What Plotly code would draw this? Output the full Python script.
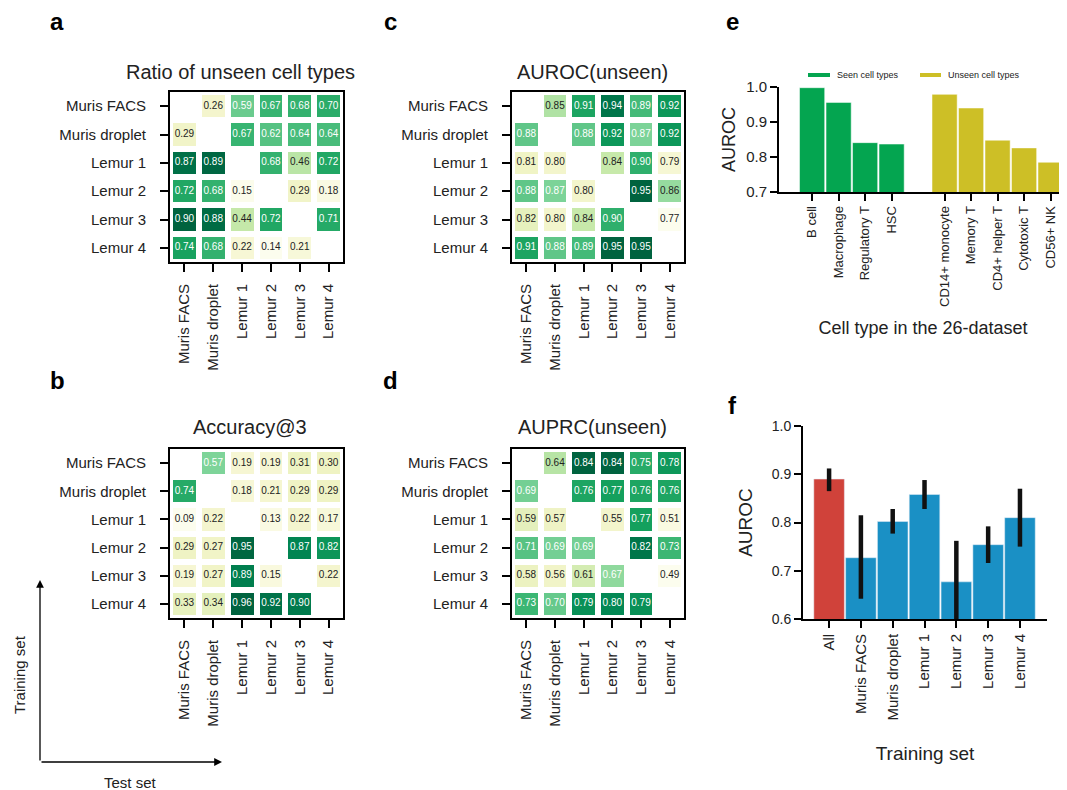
import plotly.graph_objects as go

W, H = 1067, 790
OX, OY = 8, 8  # page body margin of the rendered page
FONT = "Liberation Sans, Arial, Helvetica, sans-serif"

datasets = ["Muris FACS", "Muris droplet", "Lemur 1", "Lemur 2", "Lemur 3", "Lemur 4"]

ratio_unseen = [
    [None, 0.26, 0.59, 0.67, 0.68, 0.70],
    [0.29, None, 0.67, 0.62, 0.64, 0.64],
    [0.87, 0.89, None, 0.68, 0.46, 0.72],
    [0.72, 0.68, 0.15, None, 0.29, 0.18],
    [0.90, 0.88, 0.44, 0.72, None, 0.71],
    [0.74, 0.68, 0.22, 0.14, 0.21, None],
]
auroc_unseen = [
    [None, 0.85, 0.91, 0.94, 0.89, 0.92],
    [0.88, None, 0.88, 0.92, 0.87, 0.92],
    [0.81, 0.80, None, 0.84, 0.90, 0.79],
    [0.88, 0.87, 0.80, None, 0.95, 0.86],
    [0.82, 0.80, 0.84, 0.90, None, 0.77],
    [0.91, 0.88, 0.89, 0.95, 0.95, None],
]
accuracy3 = [
    [None, 0.57, 0.19, 0.19, 0.31, 0.30],
    [0.74, None, 0.18, 0.21, 0.29, 0.29],
    [0.09, 0.22, None, 0.13, 0.22, 0.17],
    [0.29, 0.27, 0.95, None, 0.87, 0.82],
    [0.19, 0.27, 0.89, 0.15, None, 0.22],
    [0.33, 0.34, 0.96, 0.92, 0.90, None],
]
auprc_unseen = [
    [None, 0.64, 0.84, 0.84, 0.75, 0.78],
    [0.69, None, 0.76, 0.77, 0.76, 0.76],
    [0.59, 0.57, None, 0.55, 0.77, 0.51],
    [0.71, 0.69, 0.69, None, 0.82, 0.73],
    [0.58, 0.56, 0.61, 0.67, None, 0.49],
    [0.73, 0.70, 0.79, 0.80, 0.79, None],
]

seen_types = ["B cell", "Macrophage", "Regulatory T", "HSC"]
seen_auroc = [0.998, 0.956, 0.841, 0.837]
unseen_types = ["CD14+ monocyte", "Memory T", "CD4+ helper T", "Cytotoxic T", "CD56+ NK"]
unseen_auroc = [0.979, 0.940, 0.848, 0.826, 0.785]
legend_labels = ["Seen cell types", "Unseen cell types"]

train_sets = ["All", "Muris FACS", "Muris droplet", "Lemur 1", "Lemur 2", "Lemur 3", "Lemur 4"]
train_auroc = [0.890, 0.727, 0.802, 0.858, 0.677, 0.754, 0.810]
train_lo = [0.865, 0.642, 0.777, 0.828, 0.590, 0.716, 0.750]
train_hi = [0.912, 0.815, 0.828, 0.888, 0.762, 0.792, 0.870]

GREEN_SCALE = [
    [0.00, "#fcfdee"], [0.12, "#f6f6d2"], [0.25, "#eef3c2"], [0.40, "#c4e8a8"],
    [0.55, "#7fd49a"], [0.68, "#3db774"], [0.80, "#14a05d"], [0.90, "#008452"],
    [1.00, "#00633f"],
]
SEEN_COLOR = "#04a550"
UNSEEN_COLOR = "#cdbf26"

fig = go.Figure()


def fx(x):
    return (x - OX) / W


def fy(y):
    return 1 - (y - OY) / H


def dom_x(a, b):
    return [max(0, fx(a)), min(1, fx(b))]


def dom_y(top, bottom):
    return [max(0, fy(bottom)), min(1, fy(top))]


heatmaps = [
    ("", ratio_unseen, "Ratio of unseen cell types", dom_x(170, 343), dom_y(92, 262), 240, 72),
    ("2", auroc_unseen, "AUROC(unseen)", dom_x(512, 684), dom_y(92, 262), 592, 72),
    ("3", accuracy3, "Accuracy@3", dom_x(170, 343), dom_y(449, 618), 250, 427),
    ("4", auprc_unseen, "AUPRC(unseen)", dom_x(512, 684), dom_y(449, 618), 592, 427),
]

annotations = []
shapes = []
for sfx, z, title, dx, dy, tx, ty in heatmaps:
    vals = [v for row in z for v in row if v is not None]
    zmin, zmax = min(vals), max(vals)
    fig.add_trace(go.Heatmap(
        z=z, x=datasets, y=datasets, colorscale=GREEN_SCALE, zmin=zmin, zmax=zmax,
        showscale=False, xgap=6, ygap=6, hoverongaps=False,
        xaxis="x" + sfx, yaxis="y" + sfx,
    ))
    tx_, ty_, tt, tc = [], [], [], []
    for i, row in enumerate(z):
        for j, v in enumerate(row):
            if v is None:
                continue
            tx_.append(datasets[j])
            ty_.append(datasets[i])
            tt.append(f"{v:.2f}")
            tc.append("white" if (v - zmin) / (zmax - zmin) > 0.507 else "#222222")
    fig.add_trace(go.Scatter(
        x=tx_, y=ty_, text=tt, mode="text", textfont=dict(size=10, color=tc, family=FONT),
        showlegend=False, hoverinfo="skip", xaxis="x" + sfx, yaxis="y" + sfx,
    ))
    ax_common = dict(showline=True, linecolor="black", linewidth=2, mirror=True,
                     ticks="outside", ticklen=8, tickwidth=1.5, tickcolor="black",
                     showgrid=False, zeroline=False, automargin=False,
                     tickfont=dict(size=15, color="#222"))
    fig.layout["xaxis" + sfx] = dict(domain=dx, anchor="y" + sfx, range=[-0.5, 5.5],
                                     tickangle=-90, ticklabelstandoff=6, **ax_common)
    fig.layout["yaxis" + sfx] = dict(domain=dy, anchor="x" + sfx, range=[5.5, -0.5],
                                     ticklabelstandoff=11, **ax_common)
    annotations.append(dict(text=title, x=fx(tx), y=fy(ty), xref="paper", yref="paper",
                            showarrow=False, xanchor="center", yanchor="middle",
                            font=dict(size=20, color="#222")))

# Panel e
seen_x = list(range(len(seen_types)))
unseen_x = [len(seen_types) + 1 + i for i in range(len(unseen_types))]
fig.add_trace(go.Bar(x=seen_x, y=seen_auroc, marker=dict(color=SEEN_COLOR, line=dict(color="rgba(255,255,255,0.5)", width=1)),
                     width=0.95, showlegend=False, name=legend_labels[0], xaxis="x5", yaxis="y5"))
fig.add_trace(go.Bar(x=unseen_x, y=unseen_auroc, marker=dict(color=UNSEEN_COLOR, line=dict(color="rgba(255,255,255,0.5)", width=1)),
                     width=0.95, showlegend=False, name=legend_labels[1], xaxis="x5", yaxis="y5"))

# legend for panel e (line swatches + labels)
for lbl, col, (lx0, lx1) in zip(legend_labels, [SEEN_COLOR, UNSEEN_COLOR], [(808, 830), (920, 941)]):
    shapes.append(dict(type="line", xref="paper", yref="paper", x0=fx(lx0), x1=fx(lx1),
                       y0=fy(75), y1=fy(75), line=dict(color=col, width=4)))
    annotations.append(dict(text=lbl, x=fx(lx1 + 5), y=fy(75), xref="paper", yref="paper",
                            showarrow=False, xanchor="left", yanchor="middle",
                            font=dict(size=9, color="#222")))

axis_bar = dict(showline=True, linecolor="black", linewidth=1.8, ticks="outside", ticklen=7,
                tickwidth=1.8, tickcolor="black", showgrid=False, zeroline=False, automargin=False)
fig.layout.xaxis5 = dict(domain=dom_x(779, 1067), anchor="y5", range=[-1.25, 9.62],
                         tickvals=seen_x + unseen_x, ticktext=seen_types + unseen_types,
                         tickangle=-90, tickfont=dict(size=13, color="#222"),
                         title=dict(text="Cell type in the 26-dataset", font=dict(size=18, color="#222"), standoff=15),
                         **axis_bar)
fig.layout.yaxis5 = dict(domain=dom_y(87, 192), anchor="x5", range=[0.7, 1.0],
                         tickvals=[0.7, 0.8, 0.9, 1.0], tickformat=".1f",
                         tickfont=dict(size=15, color="#222"),
                         title=dict(text="AUROC", font=dict(size=18, color="#222"), standoff=6),
                         **axis_bar)

# Panel f
f_colors = ["#d0423a"] + ["#1a90c5"] * (len(train_sets) - 1)
fig.add_trace(go.Bar(
    x=train_sets, y=train_auroc, marker=dict(color=f_colors), width=0.96, showlegend=False,
    error_y=dict(type="data", symmetric=False,
                 array=[h - m for h, m in zip(train_hi, train_auroc)],
                 arrayminus=[m - l for m, l in zip(train_auroc, train_lo)],
                 color="#111111", thickness=4.5, width=0),
    xaxis="x6", yaxis="y6"))
fig.layout.xaxis6 = dict(domain=dom_x(803, 1047), anchor="y6", range=[-0.82, 6.85],
                         tickangle=-90, tickfont=dict(size=15, color="#222"),
                         title=dict(text="Training set", font=dict(size=19, color="#222"), standoff=27),
                         **axis_bar)
fig.layout.yaxis6 = dict(domain=dom_y(426, 619), anchor="x6", range=[0.6, 1.0],
                         tickvals=[0.6, 0.7, 0.8, 0.9, 1.0], tickformat=".1f",
                         tickfont=dict(size=14, color="#222"),
                         title=dict(text="AUROC", font=dict(size=19, color="#222"), standoff=14),
                         **axis_bar)

# Panel letters
for letter, lx, ly in [("a", 57, 22), ("c", 390, 22), ("e", 732, 22),
                       ("b", 57, 380), ("d", 390, 380), ("f", 732, 405)]:
    annotations.append(dict(text=f"<b>{letter}</b>", x=fx(lx), y=fy(ly), xref="paper", yref="paper",
                            showarrow=False, xanchor="center", yanchor="middle",
                            font=dict(size=24, color="black")))

# Training/test arrows
annotations.append(dict(x=fx(40), y=fy(580), xref="paper", yref="paper", text="",
                        showarrow=True, ax=0, ay=182, arrowhead=2, arrowsize=1.2,
                        arrowwidth=1.3, arrowcolor="black"))
annotations.append(dict(x=fx(222), y=fy(762), xref="paper", yref="paper", text="",
                        showarrow=True, ax=-182, ay=0, arrowhead=2, arrowsize=1.2,
                        arrowwidth=1.3, arrowcolor="black"))
annotations.append(dict(text="Training set", x=fx(19), y=fy(675), xref="paper", yref="paper",
                        showarrow=False, textangle=-90, xanchor="center", yanchor="middle",
                        font=dict(size=15, color="#222")))
annotations.append(dict(text="Test set", x=fx(130), y=fy(782), xref="paper", yref="paper",
                        showarrow=False, xanchor="center", yanchor="middle",
                        font=dict(size=15, color="#222")))

fig.update_layout(
    width=W, height=H, margin=dict(l=0, r=0, t=0, b=0, autoexpand=False),
    paper_bgcolor="white", plot_bgcolor="white",
    font=dict(family=FONT, color="#222"),
    annotations=annotations,
    shapes=shapes,
    showlegend=False,
    bargap=0.04,
)

fig.write_html("out.html")
